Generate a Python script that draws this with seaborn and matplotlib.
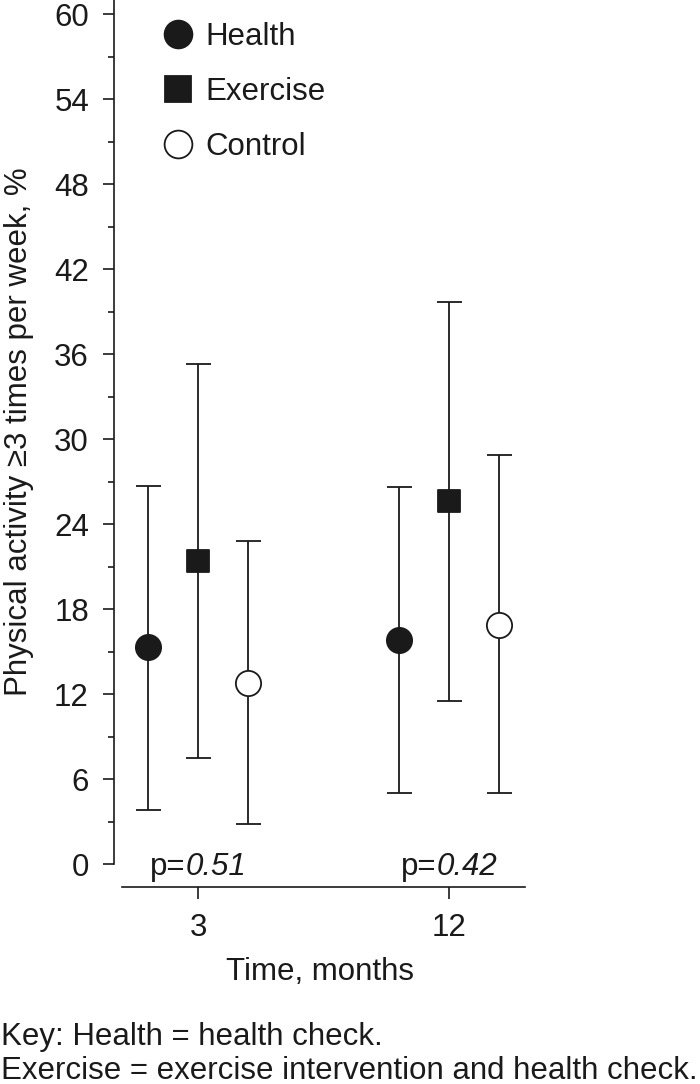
import numpy as np
import pandas as pd
import matplotlib
matplotlib.use('Agg')
import matplotlib.pyplot as plt
from matplotlib.lines import Line2D
from matplotlib.ticker import MultipleLocator
import seaborn as sns

# values
groups = ['Health', 'Exercise', 'Control']
months = ['3', '12']
health_mean = [15.3, 15.8]
health_lo = [3.8, 5.0]
health_hi = [26.7, 26.6]
exercise_mean = [21.4, 25.6]
exercise_lo = [7.5, 11.5]
exercise_hi = [35.3, 39.7]
control_mean = [12.8, 16.9]
control_lo = [2.8, 5.0]
control_hi = [22.8, 28.9]
p_values = ['0.51', '0.42']

sns.set_style('ticks')
plt.rcParams['font.family'] = ['Liberation Sans', 'DejaVu Sans']

ink = '#1a1a1a'
fs = 22.5

rows = []
for g, m, lo, hi in [('Health', health_mean, health_lo, health_hi),
                     ('Exercise', exercise_mean, exercise_lo, exercise_hi),
                     ('Control', control_mean, control_lo, control_hi)]:
    for i, mo in enumerate(months):
        rows.append({'group': g, 'month': mo, 'idx': i, 'mean': m[i], 'lo': lo[i], 'hi': hi[i]})
df = pd.DataFrame(rows)
offset = {'Health': -0.2, 'Exercise': 0.0, 'Control': 0.2}
df['x'] = df['idx'] + df['group'].map(offset)

fig = plt.figure(figsize=(7, 10.84), dpi=100)
ax = fig.add_axes([114 / 700, 1 - 864 / 1084, 411 / 700, 864 / 1084])

# error bars
ax.errorbar(df['x'], df['mean'], yerr=[df['mean'] - df['lo'], df['hi'] - df['mean']],
            fmt='none', ecolor=ink, elinewidth=1.3, capsize=9, capthick=1.3, zorder=2)

styles = {'Health': ('o', ink, 330), 'Exercise': ('s', ink, 230), 'Control': ('o', 'white', 330)}
for g in groups:
    mk, fc, s = styles[g]
    sns.scatterplot(data=df[df['group'] == g], x='x', y='mean', marker=mk, color=fc,
                    edgecolor=ink, linewidth=1.3, s=s, ax=ax, legend=False, zorder=3)

ax.set_ylim(0, 61)
ax.set_xlim(-0.335, 1.303)
ax.yaxis.set_major_locator(MultipleLocator(6))
ax.yaxis.set_minor_locator(MultipleLocator(3))
ax.set_xticks([0, 1])
ax.set_xticklabels(months)

sns.despine(ax=ax)
ax.spines['bottom'].set_position(('outward', 16.6))
ax.spines['bottom'].set_bounds(-0.303, 1.303)
for sp in ['left', 'bottom']:
    ax.spines[sp].set_linewidth(1.2)
    ax.spines[sp].set_color(ink)

ax.tick_params(axis='y', which='major', length=8, width=1.2, pad=10, labelsize=fs, colors=ink)
ax.tick_params(axis='y', which='minor', length=4.3, width=1.2, colors=ink)
ax.tick_params(axis='x', length=8.6, width=1.2, pad=10, labelsize=fs, colors=ink)

ax.set_xlabel('Time, months', fontsize=fs, color=ink, labelpad=10)
ax.set_ylabel('Physical activity \u22653 times per week, %', fontsize=fs, color=ink)
ax.yaxis.set_label_coords(-0.195, 0.5)

# p-values: upright "p=" followed by italic number
for i, p in enumerate(p_values):
    ax.annotate('p=', xy=(i, -0.8), xytext=(-9, 0), textcoords='offset points',
                ha='right', va='baseline', fontsize=fs, color=ink, annotation_clip=False)
    ax.annotate(p, xy=(i, -0.8), xytext=(-9, 0), textcoords='offset points',
                ha='left', va='baseline', fontsize=fs, color=ink, style='italic',
                annotation_clip=False)

handles = [
    Line2D([], [], marker='o', ls='none', ms=20, mfc=ink, mec=ink, mew=1.3),
    Line2D([], [], marker='s', ls='none', ms=19, mfc=ink, mec=ink, mew=1.3),
    Line2D([], [], marker='o', ls='none', ms=20, mfc='white', mec=ink, mew=1.3),
]
leg = fig.legend(handles, groups, loc='upper left', bbox_to_anchor=(0.2324, 0.980),
                 frameon=False, fontsize=fs, handlelength=1.0, handletextpad=0.36,
                 labelspacing=0.8, borderpad=0, borderaxespad=0)
for t in leg.get_texts():
    t.set_color(ink)

fig.text(0.0015, 1 - 1045 / 1084, 'Key: Health = health check.', fontsize=fs,
         color=ink, va='baseline', ha='left')
fig.text(0.0015, 1 - 1079 / 1084, 'Exercise = exercise intervention and health check.',
         fontsize=fs, color=ink, va='baseline', ha='left')

fig.savefig('out.png', dpi=100)
